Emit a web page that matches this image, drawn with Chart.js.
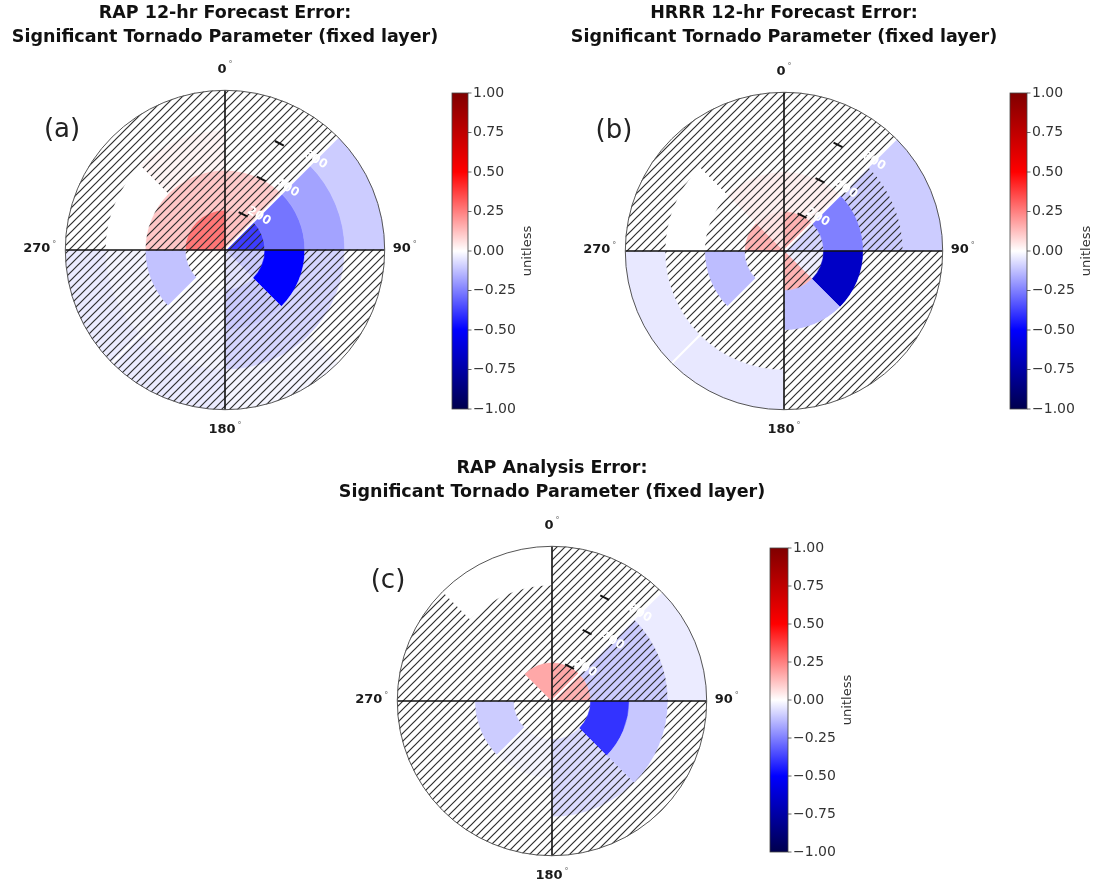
<!DOCTYPE html>
<html>
<head>
<meta charset="utf-8">
<script src="https://cdn.jsdelivr.net/npm/chart.js@4.4.1/dist/chart.umd.min.js"></script>
<style>
  html, body { margin: 0; padding: 0; background: #fff; }
  #wrap { position: relative; width: 1097px; height: 882px; overflow: hidden; }
  canvas { position: absolute; }
</style>
</head>
<body>
<div id="wrap">
  <canvas id="rapFcst" width="660" height="450" style="left:-105px;top:0px"></canvas>
  <canvas id="hrrrFcst" width="660" height="450" style="left:454px;top:0px"></canvas>
  <canvas id="rapAnl" width="660" height="432" style="left:222px;top:450px"></canvas>
</div>
<script>
// angular bins, degrees clockwise from north
var sectorStart = [0, 45, 90, 135, 180, 225, 270, 315];
var sectorWidth = [45, 45, 45, 45, 45, 45, 45, 45];
// radial bins (km), inner -> outer
var ringEdges = [0, 200, 400, 600, 800];
var radialTicks = [200, 400, 600];
var thetaTicks = [0, 90, 180, 270];
var cbarTicks = [1, 0.75, 0.5, 0.25, 0, -0.25, -0.5, -0.75, -1];

// STP error, rows = rings (inner -> outer), cols = sectors
var rapFcstErr = [
    [0.12, -0.38, -0.10, -0.05, 0.00, 0.00, 0.27, 0.27],
    [0.10, -0.27, -0.50, -0.10, -0.01, -0.12, 0.11, 0.11],
    [0.00, -0.18, -0.08, -0.08, -0.02, -0.02, 0.00, 0.02],
    [0.00, -0.10, 0.00, -0.02, -0.04, -0.04, 0.00, 0.00]
];
// 1 = not significant (hatched)
var rapFcstHatch = [
    [1, 1, 1, 1, 1, 1, 1, 1],
    [1, 0, 0, 1, 1, 0, 1, 1],
    [1, 0, 1, 1, 1, 1, 0, 1],
    [1, 0, 1, 1, 1, 1, 1, 1]
];

var hrrrFcstErr = [
    [0.15, -0.08, -0.03, 0.15, 0.00, 0.00, 0.15, 0.05],
    [0.03, -0.25, -0.66, -0.13, 0.00, -0.13, 0.00, 0.03],
    [0.00, -0.10, 0.00, 0.00, 0.00, 0.00, 0.00, 0.00],
    [0.00, -0.10, 0.00, 0.00, -0.045, -0.045, 0.00, 0.00]
];
var hrrrFcstHatch = [
    [1, 1, 1, 1, 1, 1, 1, 1],
    [1, 0, 0, 0, 1, 0, 1, 1],
    [1, 1, 1, 1, 1, 1, 0, 1],
    [1, 0, 1, 1, 0, 0, 1, 1]
];

var rapAnlErr = [
    [0.17, 0.15, 0.00, 0.00, 0.00, 0.00, 0.00, 0.17],
    [0.00, -0.10, -0.40, -0.07, -0.02, -0.10, 0.00, 0.00],
    [0.00, -0.10, -0.11, -0.07, 0.00, 0.00, 0.00, 0.00],
    [0.00, -0.04, 0.00, 0.00, 0.00, 0.00, 0.00, 0.00]
];
var rapAnlHatch = [
    [1, 1, 1, 1, 1, 1, 1, 0],
    [1, 1, 0, 1, 1, 0, 1, 1],
    [1, 1, 0, 1, 1, 1, 1, 1],
    [1, 0, 1, 1, 1, 1, 1, 0]
];

// matplotlib "seismic"
var seismicStops = [
    [0.00, [0, 0, 0.3]],
    [0.25, [0, 0, 1]],
    [0.50, [1, 1, 1]],
    [0.75, [1, 0, 0]],
    [1.00, [0.5, 0, 0]]
];

function seismic(v) {
    var t = Math.max(0, Math.min(1, (v + 1) / 2));
    for (var k = 0; k < seismicStops.length - 1; k++) {
        var a = seismicStops[k], b = seismicStops[k + 1];
        if (t <= b[0]) {
            var f = (t - a[0]) / (b[0] - a[0]);
            var c = [0, 1, 2].map(function (j) {
                return Math.round(255 * (a[1][j] + (b[1][j] - a[1][j]) * f));
            });
            return 'rgb(' + c.join(',') + ')';
        }
    }
    return 'rgb(128,0,0)';
}

function hatchFill(ctx, color) {
    var s = 8;
    var tile = document.createElement('canvas');
    tile.width = s;
    tile.height = s;
    var g = tile.getContext('2d');
    g.fillStyle = color;
    g.fillRect(0, 0, s, s);
    g.strokeStyle = '#2e2e2e';
    g.lineWidth = 1.2;
    g.beginPath();
    g.moveTo(-1, s + 1); g.lineTo(s + 1, -1);
    g.moveTo(-1, 1); g.lineTo(1, -1);
    g.moveTo(s - 1, s + 1); g.lineTo(s + 1, s - 1);
    g.stroke();
    return ctx.createPattern(tile, 'repeat');
}

function ringDatasets(ctx, err, hatch) {
    var sets = [];
    // doughnut: first dataset is the outer ring
    for (var r = err.length - 1; r >= 0; r--) {
        var fills = err[r].map(function (v, s) {
            var col = seismic(v);
            return hatch[r][s] ? hatchFill(ctx, col) : col;
        });
        sets.push({
            label: ringEdges[r] + '-' + ringEdges[r + 1] + ' km',
            data: sectorWidth,
            backgroundColor: fills,
            borderColor: fills,
            borderWidth: 0.6
        });
    }
    return sets;
}

function degLabel(ctx, txt, x, y, align) {
    ctx.font = 'bold 13px "DejaVu Sans"';
    var w = ctx.measureText(txt).width;
    ctx.font = '8px "DejaVu Sans"';
    var w2 = ctx.measureText('°').width + 2;
    var left = x - (w + w2) / 2;
    if (align === 'left') left = x;
    if (align === 'right') left = x - w - w2;
    ctx.textAlign = 'left';
    ctx.textBaseline = 'middle';
    ctx.fillStyle = '#1a1a1a';
    ctx.font = 'bold 13px "DejaVu Sans"';
    ctx.fillText(txt, left, y);
    ctx.fillStyle = '#666';
    ctx.font = '8px "DejaVu Sans"';
    ctx.fillText('°', left + w + 2, y - 4);
}

function makeDecor(letter, cb) {
    return {
        id: 'polarDecor',
        afterDatasetsDraw: function (chart) {
            var ctx = chart.ctx;
            var arc = chart.getDatasetMeta(0).data[0];
            var cx = arc.x, cy = arc.y, R = arc.outerRadius;
            var rad = function (b) { return (b - 90) * Math.PI / 180; };
            ctx.save();

            // light theta grid on the diagonals
            ctx.strokeStyle = '#ffffff';
            ctx.lineWidth = 2.2;
            [45, 225].forEach(function (b) {
                ctx.beginPath();
                ctx.moveTo(cx, cy);
                ctx.lineTo(cx + R * Math.cos(rad(b)), cy + R * Math.sin(rad(b)));
                ctx.stroke();
            });

            // black axes through the centre
            ctx.strokeStyle = '#111';
            ctx.lineWidth = 1.6;
            ctx.beginPath();
            ctx.moveTo(cx, cy - R); ctx.lineTo(cx, cy + R);
            ctx.moveTo(cx - R, cy); ctx.lineTo(cx + R, cy);
            ctx.stroke();

            // outline
            ctx.strokeStyle = '#555';
            ctx.lineWidth = 1;
            ctx.beginPath();
            ctx.arc(cx, cy, R, 0, Math.PI * 2);
            ctx.stroke();

            // radial ticks + labels
            var rMax = ringEdges[ringEdges.length - 1];
            radialTicks.forEach(function (t) {
                var rr = t / rMax * R;
                var a = rad(27);
                var px = cx + rr * Math.cos(a), py = cy + rr * Math.sin(a);
                var tx = -Math.sin(a), ty = Math.cos(a);
                ctx.strokeStyle = '#111';
                ctx.lineWidth = 2;
                ctx.beginPath();
                ctx.moveTo(px - tx * 5, py - ty * 5);
                ctx.lineTo(px + tx * 5, py + ty * 5);
                ctx.stroke();
                var b = rad(45);
                ctx.save();
                ctx.translate(cx + (rr + 8) * Math.cos(b), cy + (rr + 8) * Math.sin(b));
                ctx.rotate(30 * Math.PI / 180);
                ctx.fillStyle = '#fff';
                ctx.font = 'bold 12px "DejaVu Sans"';
                ctx.textAlign = 'center';
                ctx.textBaseline = 'middle';
                ctx.fillText(String(t), 0, 0);
                ctx.restore();
            });

            // theta labels
            thetaTicks.forEach(function (t) {
                var txt = String(t);
                if (t === 0) degLabel(ctx, txt, cx, cy - R - 21, 'center');
                if (t === 180) degLabel(ctx, txt, cx, cy + R + 20, 'center');
                if (t === 90) degLabel(ctx, txt, cx + R + 8, cy - 1, 'left');
                if (t === 270) degLabel(ctx, txt, cx - R - 9, cy - 1, 'right');
            });

            // panel letter
            ctx.fillStyle = '#222';
            ctx.font = '26px "DejaVu Sans"';
            ctx.textAlign = 'center';
            ctx.textBaseline = 'middle';
            ctx.fillText(letter, cx + cb.lx, cy + cb.ly);

            // colorbar
            var x0 = cx + cb.dx, y0 = cy + cb.top, y1 = cy + cb.bottom;
            var grad = ctx.createLinearGradient(0, y0, 0, y1);
            for (var k = seismicStops.length - 1; k >= 0; k--) {
                var c = seismicStops[k][1].map(function (u) { return Math.round(u * 255); });
                grad.addColorStop(1 - seismicStops[k][0], 'rgb(' + c.join(',') + ')');
            }
            ctx.fillStyle = grad;
            ctx.fillRect(x0, y0, cb.w, y1 - y0);
            ctx.strokeStyle = '#444';
            ctx.lineWidth = 0.8;
            ctx.strokeRect(x0, y0, cb.w, y1 - y0);
            ctx.font = '14px "DejaVu Sans"';
            ctx.textAlign = 'left';
            ctx.textBaseline = 'middle';
            ctx.fillStyle = '#333';
            cbarTicks.forEach(function (v) {
                var y = y0 + (1 - v) / 2 * (y1 - y0);
                ctx.beginPath();
                ctx.moveTo(x0 + cb.w, y);
                ctx.lineTo(x0 + cb.w + 3.5, y);
                ctx.stroke();
                var s = v.toFixed(2);
                if (v < 0) s = '\u2212' + (-v).toFixed(2);
                ctx.fillText(s, x0 + cb.w + 5, y);
            });
            ctx.save();
            ctx.translate(x0 + cb.w + 60, (y0 + y1) / 2);
            ctx.rotate(-Math.PI / 2);
            ctx.textAlign = 'center';
            ctx.font = '13px "DejaVu Sans"';
            ctx.fillText('unitless', 0, 0);
            ctx.restore();

            ctx.restore();
        }
    };
}

function polarChart(id, titleLines, err, hatch, letter, lay, cb) {
    var ctx = document.getElementById(id).getContext('2d');
    return new Chart(ctx, {
        type: 'doughnut',
        data: {
            labels: sectorStart.map(function (s) { return s + '°'; }),
            datasets: ringDatasets(ctx, err, hatch)
        },
        options: {
            responsive: false,
            animation: false,
            events: [],
            cutout: 0,
            rotation: 0,
            layout: { padding: lay.padding },
            plugins: {
                legend: { display: false },
                tooltip: { enabled: false },
                title: {
                    display: true,
                    text: titleLines,
                    color: '#111',
                    font: { family: 'DejaVu Sans', size: 17.5, weight: 'bold', lineHeight: 1.4 },
                    padding: lay.titlePad
                }
            }
        },
        plugins: [makeDecor(letter, cb)]
    });
}

polarChart('rapFcst',
    ['RAP 12-hr Forecast Error:', 'Significant Tornado Parameter (fixed layer)'],
    rapFcstErr, rapFcstHatch, '(a)',
    { padding: { left: 0, right: 0, top: 0, bottom: 40 }, titlePad: { top: 1, bottom: 40 } },
    { dx: 227, w: 16, top: -157, bottom: 159, lx: -163, ly: -120 });

polarChart('hrrrFcst',
    ['HRRR 12-hr Forecast Error:', 'Significant Tornado Parameter (fixed layer)'],
    hrrrFcstErr, hrrrFcstHatch, '(b)',
    { padding: { left: 0, right: 0, top: 0, bottom: 40 }, titlePad: { top: 1, bottom: 42 } },
    { dx: 226, w: 17, top: -158, bottom: 158, lx: -170, ly: -120 });

polarChart('rapAnl',
    ['RAP Analysis Error:', 'Significant Tornado Parameter (fixed layer)'],
    rapAnlErr, rapAnlHatch, '(c)',
    { padding: { left: 0, right: 0, top: 0, bottom: 26 }, titlePad: { top: 6, bottom: 41 } },
    { dx: 218, w: 18, top: -153, bottom: 151, lx: -164, ly: -120 });
</script>
</body>
</html>
